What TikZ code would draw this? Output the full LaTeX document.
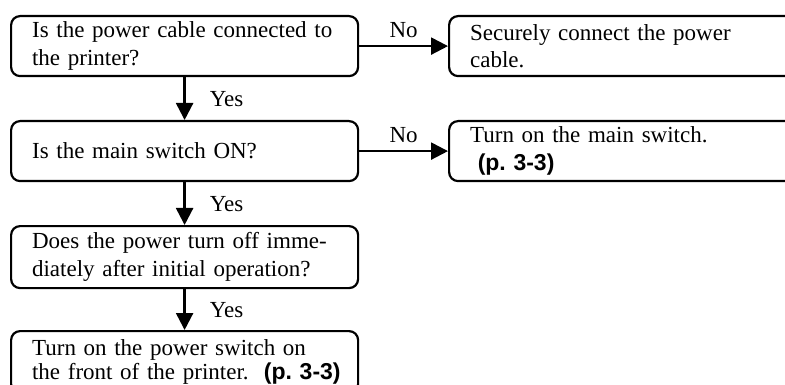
\documentclass[tikz,border=0pt]{standalone}
\usepackage{fontspec}
\setmainfont{Liberation Serif}
\setsansfont{Liberation Sans}
\usetikzlibrary{arrows.meta, positioning}

\tikzset{
  stepbox/.style={draw, line width=2.2pt, rounded corners=9pt, anchor=north west,
    minimum width=347pt, text width=305pt, inner xsep=21pt, inner ysep=2pt,
    align=left, font=\fontsize{23}{27.5}\selectfont},
  fixbox/.style={stepbox, minimum width=380pt, text width=338pt},
  flow/.style={line width=2.4pt, -{Triangle[length=17pt, width=17pt]}},
  tag/.style={font=\fontsize{23}{27.5}\selectfont, inner sep=2pt},
}
\newcommand{\pgref}{{\sffamily\bfseries (p.~3-3)}}

\begin{document}
\begin{tikzpicture}[x=1pt, y=1pt]

    % === Canvas ===
    \useasboundingbox (0,0) rectangle (785,-385);

    % === Checks (left column) ===
    \node[stepbox, minimum height=60pt] (cable) at (10,-15)
    {Is the power cable connected to\\the printer?};
    \node[stepbox, minimum height=60pt] (mainsw) at (10,-120)
    {Is the main switch ON?};
    \node[stepbox, minimum height=62pt] (turnoff) at (10,-225)
    {Does the power turn off imme-\\diately after initial operation?};
    \node[stepbox, minimum height=62pt, font=\fontsize{23}{24}\selectfont] (front) at (10,-330)
    {Turn on the power switch on\\\mbox{the front of the printer.\ \ \pgref}};

    % === Fixes (right column) ===
    \node[fixbox, minimum height=60pt] (connect) at (448,-15)
    {Securely connect the power\\cable.};
    \node[fixbox, minimum height=60pt] (switchon) at (448,-120)
    {Turn on the main switch.\\\ \pgref};

    % === Yes arrows ===
    \draw[flow] (cable) -- (mainsw) node[tag, midway, right=22pt] {Yes};
    \draw[flow] (mainsw) -- (turnoff) node[tag, midway, right=22pt] {Yes};
    \draw[flow] (turnoff) -- (front) node[tag, midway, right=22pt] {Yes};

    % === No arrows ===
    \draw[flow] (cable.east) -- (cable.east -| connect.west)
    node[tag, midway, above=5pt] {No};
    \draw[flow] (mainsw.east) -- (mainsw.east -| switchon.west)
    node[tag, midway, above=5pt] {No};

\end{tikzpicture}
\end{document}
